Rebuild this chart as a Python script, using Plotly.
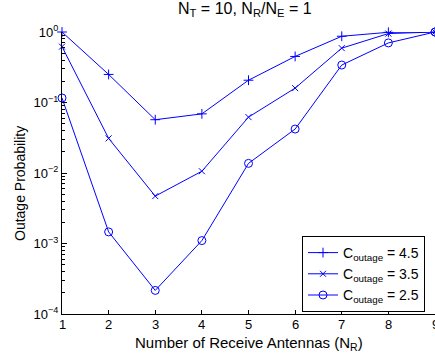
import plotly.graph_objects as go

n_r = [1, 2, 3, 4, 5, 6, 7, 8, 9]
p_45 = [1.0, 0.25, 0.057, 0.069, 0.207, 0.45, 0.87, 0.99, 1.0]
p_35 = [0.62, 0.031, 0.0047, 0.0106, 0.062, 0.16, 0.59, 0.95, 1.0]
p_25 = [0.116, 0.00146, 0.000216, 0.0011, 0.0137, 0.042, 0.34, 0.70, 1.0]

series_names = ["C<sub>outage</sub> = 4.5", "C<sub>outage</sub> = 3.5", "C<sub>outage</sub> = 2.5"]
y_tickvals = [1e-4, 1e-3, 1e-2, 1e-1, 1]
y_ticktext = ["10<sup>\u22124</sup>", "10<sup>\u22123</sup>", "10<sup>\u22122</sup>", "10<sup>\u22121</sup>", "10<sup>0</sup>"]
x_tickvals = [1, 2, 3, 4, 5, 6, 7, 8, 9]

minor_vals = [m * 10 ** e for e in range(-4, 0) for m in range(2, 10)]

blue = "rgb(0,0,255)"
font = "Liberation Sans, Arial, Helvetica, sans-serif"

W, H = 435, 362
ML, MR, MT, MB = 62, 0, 32, 48
PW, PH = W - ML - MR, H - MT - MB


def px(x):
    return (x - ML) / PW


def py(y):
    return (H - MB - y) / PH


fig = go.Figure()
symbols = ["cross-thin-open", "x-thin-open", "circle-open"]
sizes = [7, 6, 8]
for ys, name, sym, sz in zip([p_45, p_35, p_25], series_names, symbols, sizes):
    fig.add_trace(go.Scatter(
        x=n_r, y=ys, name=name, mode="lines+markers",
        line=dict(color=blue, width=1),
        marker=dict(symbol=sym, size=sz, color=blue, line=dict(color=blue, width=1)),
        cliponaxis=False,
    ))

# tick labels drawn as annotations so the edge label "9" is kept (partly cut by the page edge)
x_labels = [dict(text=str(v), x=v, y=py(325), xref="x", yref="paper",
                 xanchor="center", yanchor="middle", showarrow=False,
                 font=dict(size=13)) for v in x_tickvals]

fig.update_layout(
    width=W, height=H,
    margin=dict(l=ML, r=MR, t=MT, b=MB),
    paper_bgcolor="white", plot_bgcolor="white",
    font=dict(family=font, size=13, color="black"),
    showlegend=True,
    legend=dict(
        x=px(302), y=py(236), xanchor="left", yanchor="top",
        bgcolor="white", bordercolor="black", borderwidth=1,
        font=dict(size=14), itemwidth=30, tracegroupgap=0,
    ),
    xaxis=dict(
        range=[1, 9], tickvals=x_tickvals, ticks="inside", ticklen=4,
        tickcolor="black", showline=True, linecolor="black", linewidth=1,
        showgrid=False, zeroline=False, mirror=False,
        showticklabels=False,
    ),
    yaxis=dict(
        type="log", range=[-4, 0], tickvals=y_tickvals, ticktext=y_ticktext,
        ticks="inside", ticklen=5, tickcolor="black",
        showline=True, linecolor="black", linewidth=1,
        showgrid=False, zeroline=False,
        tickfont=dict(size=13),
        minor=dict(tickvals=minor_vals, ticks="inside", ticklen=3, tickcolor="black", showgrid=False),
    ),
    annotations=x_labels + [
        dict(text="N<sub>T</sub> = 10, N<sub>R</sub>/N<sub>E</sub> = 1", x=px(245), y=py(9),
             xref="paper", yref="paper", xanchor="center", yanchor="middle",
             showarrow=False, font=dict(size=16)),
        dict(text="Number of Receive Antennas (N<sub>R</sub>)", x=px(249), y=py(343),
             xref="paper", yref="paper", xanchor="center", yanchor="middle",
             showarrow=False, font=dict(size=15)),
        dict(text="Outage Probability", textangle=-90, x=px(20), y=py(184),
             xref="paper", yref="paper", xanchor="center", yanchor="middle",
             showarrow=False, font=dict(size=14)),
    ],
)

fig.write_html("out.html")
